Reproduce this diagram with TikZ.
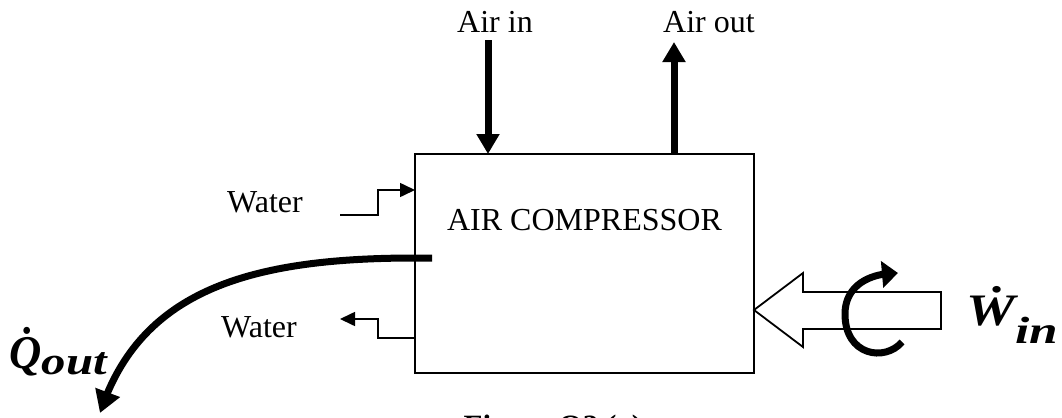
\documentclass[tikz,border=0pt]{standalone}
\usepackage{fontspec}
\usepackage{graphicx}
\setmainfont{Liberation Serif}
\usetikzlibrary{arrows.meta,bending,calc}
\newcommand\qoutlabel{{\bfseries\itshape\fontsize{23.5}{26}\selectfont\scalebox{0.95}[1]{\.{Q}}\raisebox{-3pt}{\scalebox{1.25}[1]{\fontsize{19.5}{22}\selectfont out}}}}
\newcommand\winlabel{{\bfseries\itshape\fontsize{22.5}{26}\selectfont\scalebox{1.22}[1]{\.{W}}\raisebox{-9pt}{\scalebox{1.35}[1]{\fontsize{19}{22}\selectfont in}}}}
\begin{document}
\begin{tikzpicture}[x=0.5pt,y=-0.5pt,
  txt/.style={font=\fontsize{16}{18}\selectfont, inner sep=0pt, anchor=base},
  boxline/.style={line width=0.9pt},
  pipe/.style={line width=0.8pt, -{Triangle[length=7.5pt,width=7pt]}},
  flow/.style={line width=3.5pt, -{Triangle[length=10pt,width=11pt]}},
  heat/.style={line width=3.5pt, -{Triangle[length=11pt,width=12.5pt,flex]}},
  spin/.style={line width=3.5pt, -{Triangle[length=8pt,width=13pt,flex]}},
  biglbl/.style={inner sep=0pt, anchor=base west},
]
\useasboundingbox (0,0) rectangle (1062,418);
% compressor box
\node[draw, boxline, minimum width=169.5pt, minimum height=109.5pt, inner sep=0pt, outer sep=0pt] (comp) at (584.5,263.5) {};
\node[txt] (title) at (584.5,230) {AIR COMPRESSOR};
% air in / out
\node[txt] (airin) at (495,32) {Air in};
\node[txt] (airout) at (709,32) {Air out};
\coordinate (ainTop) at (488,40);
\coordinate (aoutTop) at (674,42);
\draw[flow] (ainTop) -- (ainTop |- comp.north);
\draw[flow] (aoutTop |- comp.north) -- (aoutTop);
% water
\node[txt] (w1) at (265,212) {Water};
\node[txt] (w2) at (259,337) {Water};
\coordinate (w1s) at (340,215);
\coordinate (w2e) at (340,319);
\draw[pipe] (w1s) -- (378,215) -- (378,190) -- (comp.west |- 0,190);
\draw[pipe] (comp.west |- 0,338) -- (378,338) -- (378,319) -- (w2e);
% heat out
\coordinate (qs) at (432,258);
\coordinate (qe) at (100,413);
\draw[heat] (qs) -- (415,258) .. controls (250,258) and (140,290) .. (qe);
\node[biglbl] (qlab) at (9,368) {\qoutlabel};
% work in
\draw[boxline, line join=miter] (comp.east |- 0,310) -- (803,273) -- (803,292) -- (941,292) -- (941,329) -- (803,329) -- (803,347) -- cycle;
\draw[spin] (902,342) .. controls (885,362) and (845,356) .. (845,314) .. controls (845,288) and (866,273) .. (898,273);
\node[biglbl] (wlab) at (966,325) {\winlabel};
% caption (cut off by the frame, as in the reference)
\node[inner sep=0pt, anchor=base, font=\bfseries\fontsize{15.5}{18}\selectfont] (cap) at (553,436) {Figure Q2 (a)};
\end{tikzpicture}
\end{document}
